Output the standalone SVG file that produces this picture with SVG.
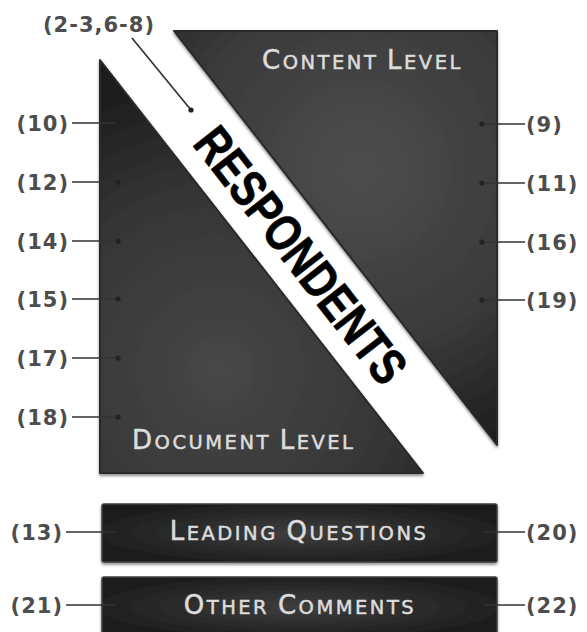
<svg xmlns="http://www.w3.org/2000/svg" width="587" height="632" viewBox="0 0 587 632">
<style>
.lbl{font-family:"DejaVu Sans",Verdana,sans-serif;font-weight:bold;font-size:21px;fill:#4d4d4d;letter-spacing:1px}
.lvl{font-family:"DejaVu Sans",Verdana,sans-serif;fill:#dcdcdc;letter-spacing:2.5px;stroke:#dcdcdc;stroke-width:0.5}
.big{font-size:26px}
.sm{font-size:19.5px}
.conn{stroke:#333;stroke-width:1.7;fill:none;marker-end:url(#dot)}
.tri{stroke-linejoin:round;stroke-width:2}
.box{stroke:#3e3e3e;stroke-width:1.5;fill:url(#gbox)}
</style>
<defs>
<marker id="dot" viewBox="-3 -3 6 6" markerWidth="6" markerHeight="6" markerUnits="userSpaceOnUse" refX="0" refY="0">
<circle r="2.6" fill="#222"/>
</marker>
<radialGradient id="gright" gradientUnits="userSpaceOnUse" cx="360" cy="170" r="300">
<stop offset="0" stop-color="#4d4d4d"/>
<stop offset="0.6" stop-color="#3a3a3a"/>
<stop offset="1" stop-color="#1e1e1e"/>
</radialGradient>
<radialGradient id="gleft" gradientUnits="userSpaceOnUse" cx="220" cy="370" r="300">
<stop offset="0" stop-color="#474747"/>
<stop offset="0.6" stop-color="#353535"/>
<stop offset="1" stop-color="#1c1c1c"/>
</radialGradient>
<radialGradient id="gbox" cx="0.5" cy="0.5" r="0.6">
<stop offset="0" stop-color="#3e3e3e"/>
<stop offset="1" stop-color="#1a1a1a"/>
</radialGradient>
<filter id="sh" x="-10%" y="-10%" width="120%" height="120%">
<feDropShadow dx="0" dy="2" stdDeviation="1.5" flood-color="#000" flood-opacity="0.45"/>
</filter>
</defs>

<g id="node-document-level">
<path class="tri" d="M100,60 L100,473 L423,473 Z" fill="url(#gleft)" stroke="#2a2a2a" filter="url(#sh)"/>
<text class="lvl" x="132" y="449"><tspan class="big">D</tspan><tspan class="sm">OCUMENT </tspan><tspan class="big">L</tspan><tspan class="sm">EVEL</tspan></text>
</g>

<g id="node-content-level">
<path class="tri" d="M174,31 L497,31 L497,445 Z" fill="url(#gright)" stroke="#2a2a2a" filter="url(#sh)"/>
<text class="lvl" x="262" y="69"><tspan class="big">C</tspan><tspan class="sm">ONTENT </tspan><tspan class="big">L</tspan><tspan class="sm">EVEL</tspan></text>
</g>

<g id="node-respondents">
<text transform="translate(301,255) rotate(52)" x="0" y="18" text-anchor="middle" font-family="'Liberation Sans',Arial,sans-serif" font-weight="bold" font-size="51" fill="#000" stroke="#000" stroke-width="0.8" textLength="310" lengthAdjust="spacingAndGlyphs">RESPONDENTS</text>
</g>

<g id="node-leading-questions">
<rect class="box" x="102" y="504" width="395" height="58" rx="2" filter="url(#sh)"/>
<text class="lvl" x="299" y="540" text-anchor="middle"><tspan class="big">L</tspan><tspan class="sm">EADING </tspan><tspan class="big">Q</tspan><tspan class="sm">UESTIONS</tspan></text>
</g>

<g id="node-other-comments">
<rect class="box" x="102" y="577" width="395" height="60" rx="2" filter="url(#sh)"/>
<text class="lvl" x="300" y="614" text-anchor="middle"><tspan class="big">O</tspan><tspan class="sm">THER </tspan><tspan class="big">C</tspan><tspan class="sm">OMMENTS</tspan></text>
</g>

<g id="connectors">
<line class="conn" x1="132" y1="38" x2="191" y2="110"/>
<line class="conn" x1="72" y1="123" x2="118" y2="123"/>
<line class="conn" x1="72" y1="182" x2="118" y2="182"/>
<line class="conn" x1="72" y1="241" x2="118" y2="241"/>
<line class="conn" x1="72" y1="299" x2="118" y2="299"/>
<line class="conn" x1="72" y1="358" x2="118" y2="358"/>
<line class="conn" x1="72" y1="417" x2="118" y2="417"/>
<line class="conn" x1="66" y1="532" x2="118" y2="532"/>
<line class="conn" x1="66" y1="605" x2="118" y2="605"/>
<line class="conn" x1="525" y1="124" x2="482" y2="124"/>
<line class="conn" x1="525" y1="183" x2="482" y2="183"/>
<line class="conn" x1="525" y1="242" x2="482" y2="242"/>
<line class="conn" x1="525" y1="300" x2="482" y2="300"/>
<line class="conn" x1="525" y1="532" x2="482" y2="532"/>
<line class="conn" x1="525" y1="605" x2="482" y2="605"/>
</g>

<g id="label-2-3-6-8"><text class="lbl" x="99" y="32" text-anchor="middle">(2-3,6-8)</text></g>
<g id="label-10"><text class="lbl" x="69" y="130.5" text-anchor="end">(10)</text></g>
<g id="label-12"><text class="lbl" x="69" y="189.5" text-anchor="end">(12)</text></g>
<g id="label-14"><text class="lbl" x="69" y="248.5" text-anchor="end">(14)</text></g>
<g id="label-15"><text class="lbl" x="69" y="306.5" text-anchor="end">(15)</text></g>
<g id="label-17"><text class="lbl" x="69" y="365.5" text-anchor="end">(17)</text></g>
<g id="label-18"><text class="lbl" x="69" y="424.5" text-anchor="end">(18)</text></g>
<g id="label-13"><text class="lbl" x="63" y="539.5" text-anchor="end">(13)</text></g>
<g id="label-21"><text class="lbl" x="63" y="612.5" text-anchor="end">(21)</text></g>
<g id="label-9"><text class="lbl" x="526" y="131.5">(9)</text></g>
<g id="label-11"><text class="lbl" x="526" y="190.5">(11)</text></g>
<g id="label-16"><text class="lbl" x="526" y="249.5">(16)</text></g>
<g id="label-19"><text class="lbl" x="526" y="307.5">(19)</text></g>
<g id="label-20"><text class="lbl" x="526" y="539.5">(20)</text></g>
<g id="label-22"><text class="lbl" x="526" y="612.5">(22)</text></g>
</svg>
